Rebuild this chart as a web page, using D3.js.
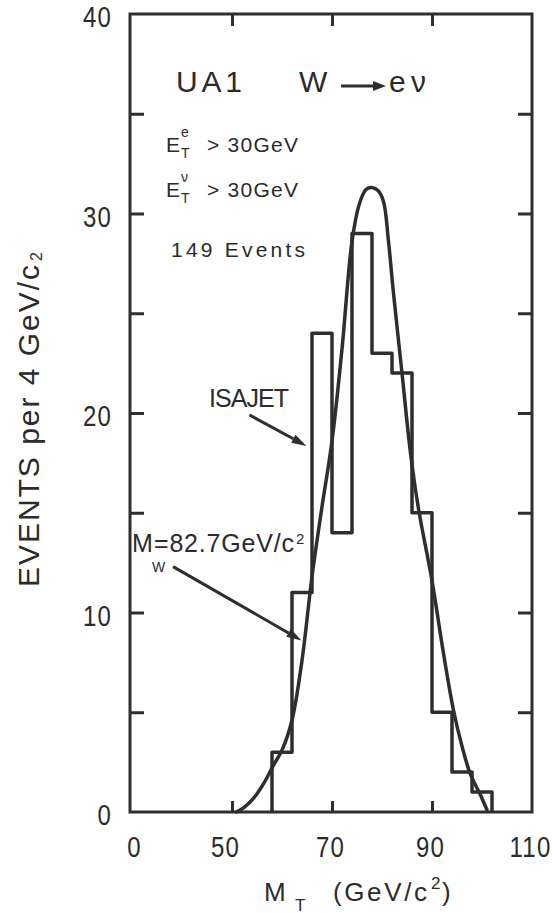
<!DOCTYPE html>
<html>
<head>
<meta charset="utf-8">
<script src="https://cdn.jsdelivr.net/npm/d3@7"></script>
<style>
  body { margin: 0; background: #ffffff; }
  svg { display: block; }
  text { font-family: "Liberation Sans", Arial, sans-serif; fill: #2b2b2b; }
</style>
</head>
<body>
<svg id="chart" width="552" height="914"></svg>
<script>
// ---------------- DATA ----------------
// Histogram: UA1 transverse mass, 4 GeV bins (149 events)
const binEdges  = [58, 62, 66, 70, 74, 78, 82, 86, 90, 94, 98, 102];
const binCounts = [3, 11, 24, 14, 29, 23, 22, 15, 5, 2, 1];

// ISAJET expectation curve (M_W = 82.7 GeV/c^2)
const curveMass  = [50.9, 52.5, 54.5, 56.5, 58.3, 60, 62, 64, 66, 68, 70, 72, 74, 75.5, 76.8, 77.9, 79.2, 80.3, 81.3, 82.3, 84, 85.7, 87.3, 90, 92.3, 94.3, 96, 97.6, 99.6, 101];
const curveValue = [0, 0.25, 0.75, 1.5, 2.35, 3.1, 4.6, 7.6, 11.8, 15.3, 18.6, 23.2, 28.6, 30.5, 31.2, 31.3, 31.15, 30.6, 28.6, 26.0, 22.0, 18.0, 15.2, 11.6, 7.95, 5.1, 3.3, 1.95, 0.9, 0.1];

// Axes (x axis is broken between 0 and 50)
const xBreak       = [0, 50, 110];
const xTickValues  = [0, 50, 70, 90, 110];
const xTickLabels  = ["0", "50", "70", "90", "110"];
const xInnerTicks  = [50, 70, 90];
const yDomain      = [0, 40];
const yTickValues  = [0, 10, 20, 30, 40];
const yTickLabels  = ["0", "10", "20", "30", "40"];
const yInnerTicks  = [5, 10, 15, 20, 25, 30, 35];

// Annotation arrows (data coordinates: [mass, events])
const isajetArrow = [[53.5, 19.9], [64.9, 18.35]];
const mwArrow     = [[21.1, 12.3], [63.9, 8.6]];

// ---------------- LAYOUT ----------------
const ink = "#2e2e2e";
const L = { left: 130, breakAt: 232, right: 532, top: 14, bottom: 812 };
const condense = 0.8;

const svg = d3.select("#chart");
const x = d3.scaleLinear().domain(xBreak).range([L.left, L.breakAt, L.right]);
const y = d3.scaleLinear().domain(yDomain).range([L.bottom, L.top]);

// frame
svg.append("rect")
  .attr("x", x(xBreak[0])).attr("y", y(yDomain[1]))
  .attr("width", x(xBreak[2]) - x(xBreak[0]))
  .attr("height", y(yDomain[0]) - y(yDomain[1]))
  .attr("fill", "none").attr("stroke", ink).attr("stroke-width", 3);

// inward ticks
function tickAxis(axis, tx, ty) {
  const g = svg.append("g").attr("transform", `translate(${tx},${ty})`).call(axis);
  g.select(".domain").remove();
  g.selectAll(".tick line").attr("stroke", ink).attr("stroke-width", 3);
  g.selectAll(".tick text").remove();
  return g;
}
tickAxis(d3.axisLeft(y).tickValues(yInnerTicks).tickSize(-14), x(xBreak[0]), 0);
tickAxis(d3.axisRight(y).tickValues(yInnerTicks).tickSize(-14), x(xBreak[2]), 0);
tickAxis(d3.axisBottom(x).tickValues(xInnerTicks).tickSize(-11), 0, y(yDomain[0]));
tickAxis(d3.axisTop(x).tickValues(xInnerTicks).tickSize(-12), 0, y(yDomain[1]));

// tick labels (condensed digits)
const gyl = svg.append("g").attr("transform", `translate(${x(xBreak[0])},0)`)
  .call(d3.axisLeft(y).tickValues(yTickValues).tickSize(0)
        .tickFormat((d, i) => yTickLabels[i]));
gyl.select(".domain").remove();
gyl.selectAll(".tick text")
   .attr("x", 0).attr("dy", "0.43em")
   .attr("transform", `translate(-18,0) scale(${condense},1)`)
   .attr("font-size", 30).attr("letter-spacing", 1.5).attr("fill", ink)
   .attr("font-family", "Liberation Sans, Arial, sans-serif");

const gxl = svg.append("g").attr("transform", `translate(0,${y(yDomain[0])})`)
  .call(d3.axisBottom(x).tickValues(xTickValues).tickSize(0)
        .tickFormat((d, i) => xTickLabels[i]));
gxl.select(".domain").remove();
gxl.selectAll(".tick text")
   .attr("y", 0).attr("dy", 0)
   .attr("transform", d => `translate(${d === 0 ? 4 : (d === 50 ? -7 : -2)},45) scale(${condense},1)`)
   .attr("font-size", 30).attr("letter-spacing", 1.5).attr("fill", ink)
   .attr("font-family", "Liberation Sans, Arial, sans-serif");

// histogram (step outline)
const histPts = [[binEdges[0], 0]];
binCounts.forEach((c, i) => { histPts.push([binEdges[i], c]); histPts.push([binEdges[i + 1], c]); });
histPts.push([binEdges[binEdges.length - 1], 0]);
svg.append("path")
  .attr("d", d3.line().x(d => x(d[0])).y(d => y(d[1]))(histPts))
  .attr("fill", "none").attr("stroke", ink).attr("stroke-width", 3.5)
  .attr("stroke-linejoin", "round");

// ISAJET curve
const curvePts = curveMass.map((m, i) => [m, curveValue[i]]);
svg.append("path")
  .attr("d", d3.line().x(d => x(d[0])).y(d => y(d[1])).curve(d3.curveCatmullRom.alpha(0.5))(curvePts))
  .attr("fill", "none").attr("stroke", ink).attr("stroke-width", 3.5)
  .attr("stroke-linecap", "round");

// arrows
function arrow(x1, y1, x2, y2, headLen, headW, lw) {
  const a = Math.atan2(y2 - y1, x2 - x1);
  const bx = x2 - headLen * Math.cos(a), by = y2 - headLen * Math.sin(a);
  svg.append("line").attr("x1", x1).attr("y1", y1).attr("x2", bx).attr("y2", by)
    .attr("stroke", ink).attr("stroke-width", lw);
  const px = -Math.sin(a) * headW / 2, py = Math.cos(a) * headW / 2;
  svg.append("path")
    .attr("d", `M${x2},${y2}L${bx + px},${by + py}L${bx - px},${by - py}Z`)
    .attr("fill", ink);
}
arrow(x(isajetArrow[0][0]), y(isajetArrow[0][1]), x(isajetArrow[1][0]), y(isajetArrow[1][1]), 15, 9, 3);
arrow(x(mwArrow[0][0]), y(mwArrow[0][1]), x(mwArrow[1][0]), y(mwArrow[1][1]), 15, 9, 3);

// text helper: fit to target width via letter-spacing
function txt(str, px, py, size, target, anchor) {
  const t = svg.append("text").attr("x", px).attr("y", py).attr("font-size", size)
    .attr("text-anchor", anchor || "start").text(str);
  if (target) {
    const w = t.node().getComputedTextLength();
    const n = Math.max(1, str.length - 1);
    t.attr("letter-spacing", ((target - w) / n).toFixed(2));
  }
  return t;
}

// title block
txt("UA1", 176, 92, 30, 66);
txt("W", 299, 92, 30, 31);
arrow(341, 86, 386, 86, 13, 10, 3);
txt("eν", 389, 92, 30, 37);

txt("E", 166, 152, 21);
txt("e", 181, 137, 14);
txt("T", 181, 158, 14);
txt("> 30GeV", 207, 152, 21, 91);

txt("E", 166, 197, 21);
txt("ν", 181, 182, 14);
txt("T", 181, 203, 14);
txt("> 30GeV", 207, 197, 21, 91);

txt("149 Events", 171, 257, 21, 134);

// annotations
txt("ISAJET", 209, 407, 25, 80);
txt("M", 132, 552, 25);
txt("W", 152, 572, 14);
txt("=82.7GeV/c", 154, 552, 25, 140);
txt("2", 296, 544, 15);

// x title
txt("M", 264, 901, 26);
txt("T", 295, 911, 17);
txt("(GeV/c", 333, 901, 26, 94);
txt("2", 431, 889, 17);
txt(")", 442, 901, 26);

// y title (rotated)
const yt = svg.append("g").attr("transform", "translate(39,587) rotate(-90)");
const ytStr = "EVENTS per 4 GeV/c";
const ytMain = yt.append("text").attr("x", 0).attr("y", 0).attr("font-size", 30).text(ytStr);
{
  const w = ytMain.node().getComputedTextLength();
  ytMain.attr("letter-spacing", ((322 - w) / (ytStr.length - 1)).toFixed(2));
}
yt.append("text").attr("x", 326).attr("y", 3).attr("font-size", 16).text("2");
</script>
</body>
</html>
